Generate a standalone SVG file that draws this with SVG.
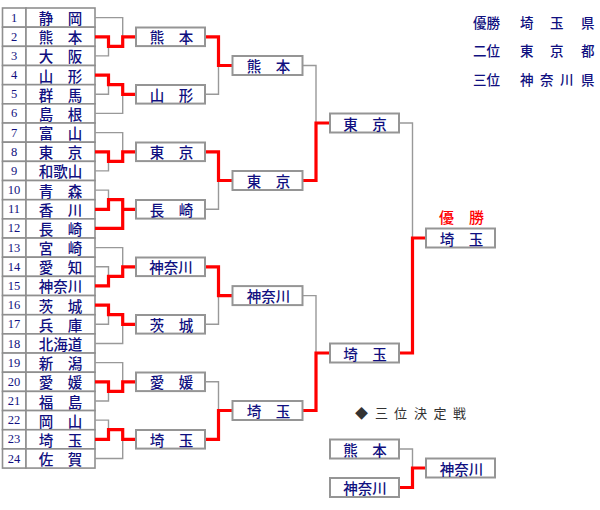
<svg xmlns="http://www.w3.org/2000/svg" width="600" height="510" viewBox="0 0 600 510">
<style>
.cell{fill:#fff;stroke:#8f8f8f;stroke-width:1.6}
.box{fill:#fff;stroke:#959595;stroke-width:2}
.num{font-family:"Liberation Serif",serif;font-size:12.5px;fill:#101080;text-anchor:middle;dominant-baseline:central}
.nm{font-family:"Noto Sans CJK JP",sans-serif;font-size:14.5px;font-weight:500;fill:#101080;text-anchor:middle;dominant-baseline:central}
.leg{font-family:"Noto Sans CJK JP",sans-serif;font-size:13.5px;font-weight:500;fill:#101080;dominant-baseline:central}
.g{fill:none;stroke:#999;stroke-width:1.4}
.r{fill:none;stroke:#ff0000;stroke-width:3.2}
</style>
<rect width="600" height="510" fill="#fff"/>
<g id="table">
<g id="t1"><rect class="cell" x="2.5" y="8" width="23.5" height="19.17"/><rect class="cell" x="26" y="8" width="69" height="19.17"/><text class="num" x="14" y="17.6">1</text><text class="nm" x="60.5" y="17.6">静　岡</text></g>
<g id="t2"><rect class="cell" x="2.5" y="27.17" width="23.5" height="19.17"/><rect class="cell" x="26" y="27.17" width="69" height="19.17"/><text class="num" x="14" y="36.8">2</text><text class="nm" x="60.5" y="36.8">熊　本</text></g>
<g id="t3"><rect class="cell" x="2.5" y="46.34" width="23.5" height="19.17"/><rect class="cell" x="26" y="46.34" width="69" height="19.17"/><text class="num" x="14" y="55.9">3</text><text class="nm" x="60.5" y="55.9">大　阪</text></g>
<g id="t4"><rect class="cell" x="2.5" y="65.51" width="23.5" height="19.17"/><rect class="cell" x="26" y="65.51" width="69" height="19.17"/><text class="num" x="14" y="75.1">4</text><text class="nm" x="60.5" y="75.1">山　形</text></g>
<g id="t5"><rect class="cell" x="2.5" y="84.68" width="23.5" height="19.17"/><rect class="cell" x="26" y="84.68" width="69" height="19.17"/><text class="num" x="14" y="94.3">5</text><text class="nm" x="60.5" y="94.3">群　馬</text></g>
<g id="t6"><rect class="cell" x="2.5" y="103.85" width="23.5" height="19.17"/><rect class="cell" x="26" y="103.85" width="69" height="19.17"/><text class="num" x="14" y="113.4">6</text><text class="nm" x="60.5" y="113.4">島　根</text></g>
<g id="t7"><rect class="cell" x="2.5" y="123.02" width="23.5" height="19.17"/><rect class="cell" x="26" y="123.02" width="69" height="19.17"/><text class="num" x="14" y="132.6">7</text><text class="nm" x="60.5" y="132.6">富　山</text></g>
<g id="t8"><rect class="cell" x="2.5" y="142.19" width="23.5" height="19.17"/><rect class="cell" x="26" y="142.19" width="69" height="19.17"/><text class="num" x="14" y="151.8">8</text><text class="nm" x="60.5" y="151.8">東　京</text></g>
<g id="t9"><rect class="cell" x="2.5" y="161.36" width="23.5" height="19.17"/><rect class="cell" x="26" y="161.36" width="69" height="19.17"/><text class="num" x="14" y="170.9">9</text><text class="nm" x="60.5" y="170.9">和歌山</text></g>
<g id="t10"><rect class="cell" x="2.5" y="180.53" width="23.5" height="19.17"/><rect class="cell" x="26" y="180.53" width="69" height="19.17"/><text class="num" x="14" y="190.1">10</text><text class="nm" x="60.5" y="190.1">青　森</text></g>
<g id="t11"><rect class="cell" x="2.5" y="199.7" width="23.5" height="19.17"/><rect class="cell" x="26" y="199.7" width="69" height="19.17"/><text class="num" x="14" y="209.3">11</text><text class="nm" x="60.5" y="209.3">香　川</text></g>
<g id="t12"><rect class="cell" x="2.5" y="218.87" width="23.5" height="19.17"/><rect class="cell" x="26" y="218.87" width="69" height="19.17"/><text class="num" x="14" y="228.4">12</text><text class="nm" x="60.5" y="228.4">長　崎</text></g>
<g id="t13"><rect class="cell" x="2.5" y="238.04" width="23.5" height="19.17"/><rect class="cell" x="26" y="238.04" width="69" height="19.17"/><text class="num" x="14" y="247.6">13</text><text class="nm" x="60.5" y="247.6">宮　崎</text></g>
<g id="t14"><rect class="cell" x="2.5" y="257.21" width="23.5" height="19.17"/><rect class="cell" x="26" y="257.21" width="69" height="19.17"/><text class="num" x="14" y="266.8">14</text><text class="nm" x="60.5" y="266.8">愛　知</text></g>
<g id="t15"><rect class="cell" x="2.5" y="276.38" width="23.5" height="19.17"/><rect class="cell" x="26" y="276.38" width="69" height="19.17"/><text class="num" x="14" y="285.9">15</text><text class="nm" x="60.5" y="285.9">神奈川</text></g>
<g id="t16"><rect class="cell" x="2.5" y="295.55" width="23.5" height="19.17"/><rect class="cell" x="26" y="295.55" width="69" height="19.17"/><text class="num" x="14" y="305.1">16</text><text class="nm" x="60.5" y="305.1">茨　城</text></g>
<g id="t17"><rect class="cell" x="2.5" y="314.72" width="23.5" height="19.17"/><rect class="cell" x="26" y="314.72" width="69" height="19.17"/><text class="num" x="14" y="324.3">17</text><text class="nm" x="60.5" y="324.3">兵　庫</text></g>
<g id="t18"><rect class="cell" x="2.5" y="333.89" width="23.5" height="19.17"/><rect class="cell" x="26" y="333.89" width="69" height="19.17"/><text class="num" x="14" y="343.5">18</text><text class="nm" x="60.5" y="343.5">北海道</text></g>
<g id="t19"><rect class="cell" x="2.5" y="353.06" width="23.5" height="19.17"/><rect class="cell" x="26" y="353.06" width="69" height="19.17"/><text class="num" x="14" y="362.6">19</text><text class="nm" x="60.5" y="362.6">新　潟</text></g>
<g id="t20"><rect class="cell" x="2.5" y="372.23" width="23.5" height="19.17"/><rect class="cell" x="26" y="372.23" width="69" height="19.17"/><text class="num" x="14" y="381.8">20</text><text class="nm" x="60.5" y="381.8">愛　媛</text></g>
<g id="t21"><rect class="cell" x="2.5" y="391.4" width="23.5" height="19.17"/><rect class="cell" x="26" y="391.4" width="69" height="19.17"/><text class="num" x="14" y="401">21</text><text class="nm" x="60.5" y="401">福　島</text></g>
<g id="t22"><rect class="cell" x="2.5" y="410.57" width="23.5" height="19.17"/><rect class="cell" x="26" y="410.57" width="69" height="19.17"/><text class="num" x="14" y="420.1">22</text><text class="nm" x="60.5" y="420.1">岡　山</text></g>
<g id="t23"><rect class="cell" x="2.5" y="429.74" width="23.5" height="19.17"/><rect class="cell" x="26" y="429.74" width="69" height="19.17"/><text class="num" x="14" y="439.3">23</text><text class="nm" x="60.5" y="439.3">埼　玉</text></g>
<g id="t24"><rect class="cell" x="2.5" y="448.91" width="23.5" height="19.17"/><rect class="cell" x="26" y="448.91" width="69" height="19.17"/><text class="num" x="14" y="458.5">24</text><text class="nm" x="60.5" y="458.5">佐　賀</text></g>
</g>
<g id="connectors">
<path class="g" d="M95,17.6H122.7V36.8M95,55.9H108.5V46.3"/>
<path class="g" d="M95,94.3H108.5V84.7M95,113.4H122.7V94.3"/>
<path class="g" d="M95,132.6H122.7V151.8M95,170.9H108.5V161.4"/>
<path class="g" d="M95,190.1H108.5V199.7"/>
<path class="g" d="M95,247.6H122.7V266.8M95,266.8H108.5V276.4"/>
<path class="g" d="M95,324.3H108.5V314.7M95,343.5H122.7V324.3"/>
<path class="g" d="M95,362.6H122.7V381.8M95,401H108.5V391.4"/>
<path class="g" d="M95,420.1H108.5V429.7M95,458.5H122.7V439.3"/>
<path class="g" d="M205,94.3H218.5V65.5M205,209.3H218.5V180.5M205,324.3H218.5V295.6M205,381.8H218.5V410.5"/>
<path class="g" d="M302.5,65.5H316V123M302.5,295.6H316V353"/>
<path class="g" d="M399,123H412.5V238M399,449H412.5V468"/>
<path class="r" d="M95,36.8H108.5V46.3H122.7V36.8H136"/>
<path class="r" d="M95,75.1H108.5V84.7H122.7V94.3H136"/>
<path class="r" d="M95,151.8H108.5V161.4H122.7V151.8H136"/>
<path class="r" d="M95,209.3H108.5V199.7H122.7V209.3H136M95,228.4H122.7V209.3"/>
<path class="r" d="M95,285.9H108.5V276.4H122.7V266.8H136"/>
<path class="r" d="M95,305.1H108.5V314.7H122.7V324.3H136"/>
<path class="r" d="M95,381.8H108.5V391.4H122.7V381.8H136"/>
<path class="r" d="M95,439.3H108.5V429.7H122.7V439.3H136"/>
<path class="r" d="M205,36.8H218.5V65.5H232.5M205,151.8H218.5V180.5H232.5M205,266.8H218.5V295.6H232.5M205,439.3H218.5V410.5H232.5"/>
<path class="r" d="M302.5,180.5H316V123H330M302.5,410.5H316V353H330"/>
<path class="r" d="M399,353H412.5V238H426M399,487.5H412.5V468H426"/>
</g>
<g id="r1-1"><rect class="box" x="136" y="27.5" width="69" height="18.6"/><text class="nm" x="171.5" y="36.8">熊　本</text></g>
<g id="r1-2"><rect class="box" x="136" y="85" width="69" height="18.6"/><text class="nm" x="171.5" y="94.3">山　形</text></g>
<g id="r1-3"><rect class="box" x="136" y="142.5" width="69" height="18.6"/><text class="nm" x="171.5" y="151.8">東　京</text></g>
<g id="r1-4"><rect class="box" x="136" y="200" width="69" height="18.6"/><text class="nm" x="171.5" y="209.3">長　崎</text></g>
<g id="r1-5"><rect class="box" x="136" y="257.5" width="69" height="18.6"/><text class="nm" x="171" y="266.8">神奈川</text></g>
<g id="r1-6"><rect class="box" x="136" y="315" width="69" height="18.6"/><text class="nm" x="171.5" y="324.3">茨　城</text></g>
<g id="r1-7"><rect class="box" x="136" y="372.5" width="69" height="18.6"/><text class="nm" x="171.5" y="381.8">愛　媛</text></g>
<g id="r1-8"><rect class="box" x="136" y="430" width="69" height="18.6"/><text class="nm" x="171.5" y="439.3">埼　玉</text></g>
<g id="r2-1"><rect class="box" x="232.5" y="56" width="70" height="19"/><text class="nm" x="268.5" y="65.5">熊　本</text></g>
<g id="r2-2"><rect class="box" x="232.5" y="171" width="70" height="19"/><text class="nm" x="268.5" y="180.5">東　京</text></g>
<g id="r2-3"><rect class="box" x="232.5" y="286.1" width="70" height="19"/><text class="nm" x="268.5" y="295.6">神奈川</text></g>
<g id="r2-4"><rect class="box" x="232.5" y="401" width="70" height="19"/><text class="nm" x="268.5" y="410.5">埼　玉</text></g>
<g id="sf-1"><rect class="box" x="330" y="113.5" width="69" height="19"/><text class="nm" x="365" y="123">東　京</text></g>
<g id="sf-2"><rect class="box" x="330" y="343.5" width="69" height="19"/><text class="nm" x="365" y="353">埼　玉</text></g>
<g id="final"><rect class="box" x="426" y="228.5" width="69" height="19"/><text class="nm" x="461.5" y="238">埼　玉</text></g>
<g id="champion-label"><text x="461.5" y="216.5" font-family="Noto Sans CJK JP, sans-serif" font-size="15" font-weight="500" fill="#ff0000" text-anchor="middle" dominant-baseline="central">優　勝</text></g>
<g id="third-title"><text y="411.7" font-family="Noto Sans CJK JP, sans-serif" font-size="13" fill="#333" dominant-baseline="central"><tspan x="355">◆</tspan><tspan x="375">三</tspan><tspan x="394">位</tspan><tspan x="414">決</tspan><tspan x="433.5">定</tspan><tspan x="453">戦</tspan></text></g>
<g id="tp-1"><rect class="box" x="330" y="439.5" width="69" height="19"/><text class="nm" x="365" y="449">熊　本</text></g>
<g id="tp-2"><rect class="box" x="330" y="478" width="69" height="19"/><text class="nm" x="365" y="487.5">神奈川</text></g>
<g id="tp-w"><rect class="box" x="426" y="458.5" width="69" height="19"/><text class="nm" x="461.5" y="468">神奈川</text></g>
<g id="legend">
<text class="leg" y="21.7"><tspan x="473">優勝</tspan><tspan x="520">埼</tspan><tspan x="550">玉</tspan><tspan x="581">県</tspan></text>
<text class="leg" y="50.3"><tspan x="473">二位</tspan><tspan x="520">東</tspan><tspan x="550">京</tspan><tspan x="581">都</tspan></text>
<text class="leg" y="79"><tspan x="473">三位</tspan><tspan x="520">神</tspan><tspan x="540">奈</tspan><tspan x="560">川</tspan><tspan x="581">県</tspan></text>
</g>
</svg>
